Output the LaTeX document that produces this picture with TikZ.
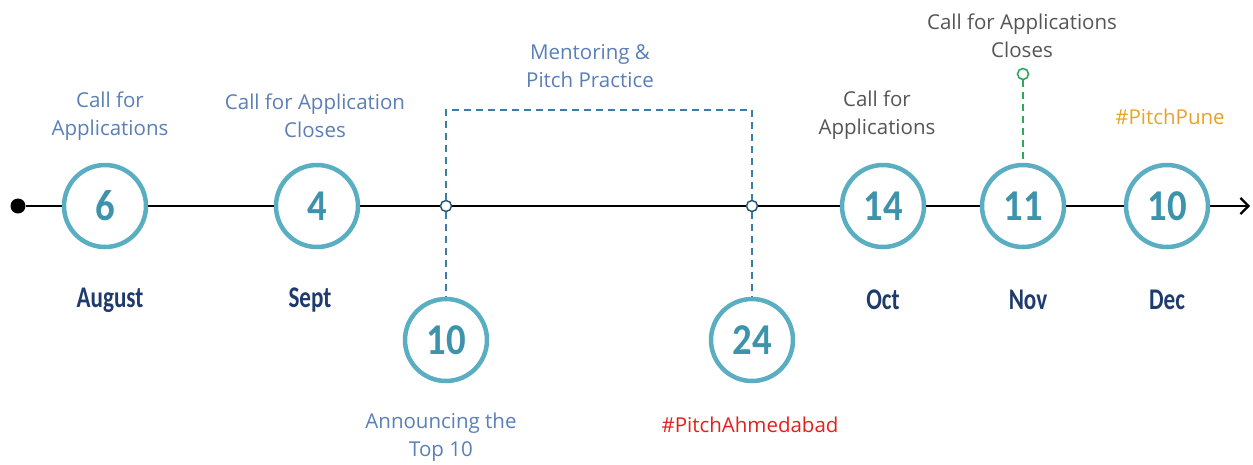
\documentclass[tikz,border=0pt]{standalone}
\usepackage{fontspec}
\setmainfont{Open Sans}
\newfontfamily\numfont[FakeStretch=0.88]{Carlito}
\newfontfamily\monthfont[FakeStretch=0.77]{Carlito}
\usetikzlibrary{arrows.meta,shadows}
\definecolor{ring}{HTML}{5AAEC2}
\definecolor{numc}{HTML}{3E93AC}
\definecolor{lblue}{HTML}{5A7FB6}
\definecolor{navy}{HTML}{1F3B6E}
\definecolor{dgray}{HTML}{555555}
\definecolor{hred}{HTML}{E3201B}
\definecolor{horange}{HTML}{E9A227}
\definecolor{dblue}{HTML}{3B7EA6}
\definecolor{dgreen}{HTML}{2FA85A}
\tikzset{
  datecirc/.style={circle, draw=ring, line width=4.5pt, fill=white, minimum size=82pt, inner sep=0pt,
     font=\numfont\fontsize{44}{44}\selectfont\bfseries, text=numc,
     drop shadow={shadow xshift=0pt, shadow yshift=-2pt, opacity=0.25}},
  lbl/.style={align=center, font=\fontsize{20.5}{28}\selectfont, inner sep=0pt},
  month/.style={font=\monthfont\fontsize{30}{30}\selectfont\bfseries, text=navy, inner sep=0pt},
  tline/.style={line width=2.2pt, black},
  pin/.style={circle, draw=dblue!70!black, fill=white, line width=1.5pt, minimum size=11pt, inner sep=0pt},
  dashblue/.style={draw=dblue, line width=1.6pt, dash pattern=on 7pt off 5pt},
  dashgreen/.style={draw=dgreen, line width=1.6pt, dash pattern=on 7pt off 5pt},
}
\begin{document}
\begin{tikzpicture}[x=1pt,y=-1pt]
\useasboundingbox (0,0) rectangle (1253,464);
% timeline nodes
\node[circle, fill=black, minimum size=15pt, inner sep=0pt] (s) at (18,206) {};
\coordinate (e) at (1250,206);
\node[pin] (p1) at (446,206) {};
\node[pin] (p2) at (752,206) {};
\coordinate (t1) at (446,110);
\coordinate (t2) at (752,110);
% dashed bracket
\draw[dashblue] (p1) -- (t1) -- (t2) -- (p2);
\node[datecirc] (c10a) at (446,340) {10};
\node[datecirc] (c24) at (752,340) {24};
\draw[dashblue] (p1) -- (c10a);
\draw[dashblue] (p2) -- (c24);
% circles on the line
\node[datecirc] (c6) at (105,206) {6};
\node[datecirc] (c4) at (317,206) {4};
\node[datecirc] (c14) at (883,206) {14};
\node[datecirc] (c11) at (1023,206) {11};
\node[datecirc] (c10) at (1167,206) {10};
% timeline segments
\draw[tline] (s) -- (c6);
\draw[tline] (c6) -- (c4);
\draw[tline] (c4) -- (p1);
\draw[tline] (p1) -- (p2);
\draw[tline] (p2) -- (c14);
\draw[tline] (c14) -- (c11);
\draw[tline] (c11) -- (c10);
\draw[tline, -{Straight Barb[length=8pt,width=16pt,line width=2.2pt]}] (c10) -- (e);
% green pin
\node[circle, draw=dgreen, fill=white, line width=1.6pt, minimum size=11pt, inner sep=0pt] (g) at (1023,74) {};
\draw[dashgreen] (g) -- (c11);
% labels
\node[lbl, text=lblue] (l1) at (110,116) {Call for\\Applications};
\node[lbl, text=lblue] (l2) at (315,116) {Call for Application\\Closes};
\node[lbl, text=lblue] (l3) at (590,66) {Mentoring \&\\Pitch Practice};
\node[lbl, text=dgray] (l4) at (877,115) {Call for\\Applications};
\node[lbl, text=dgray] (l5) at (1022,36) {Call for Applications\\Closes};
\node[lbl, text=horange] (l6) at (1170,117) {\#PitchPune};
\node[lbl, text=lblue] (l7) at (441,437) {Announcing the\\Top 10};
\node[lbl, text=hred] (l8) at (750,425) {\#PitchAhmedabad};
% months
\node[month] (m1) at (110,300) {August};
\node[month] (m2) at (310,300) {Sept};
\node[month] (m3) at (883,300) {Oct};
\node[month] (m4) at (1028,300) {Nov};
\node[month] (m5) at (1167,300) {Dec};
\end{tikzpicture}
\end{document}
